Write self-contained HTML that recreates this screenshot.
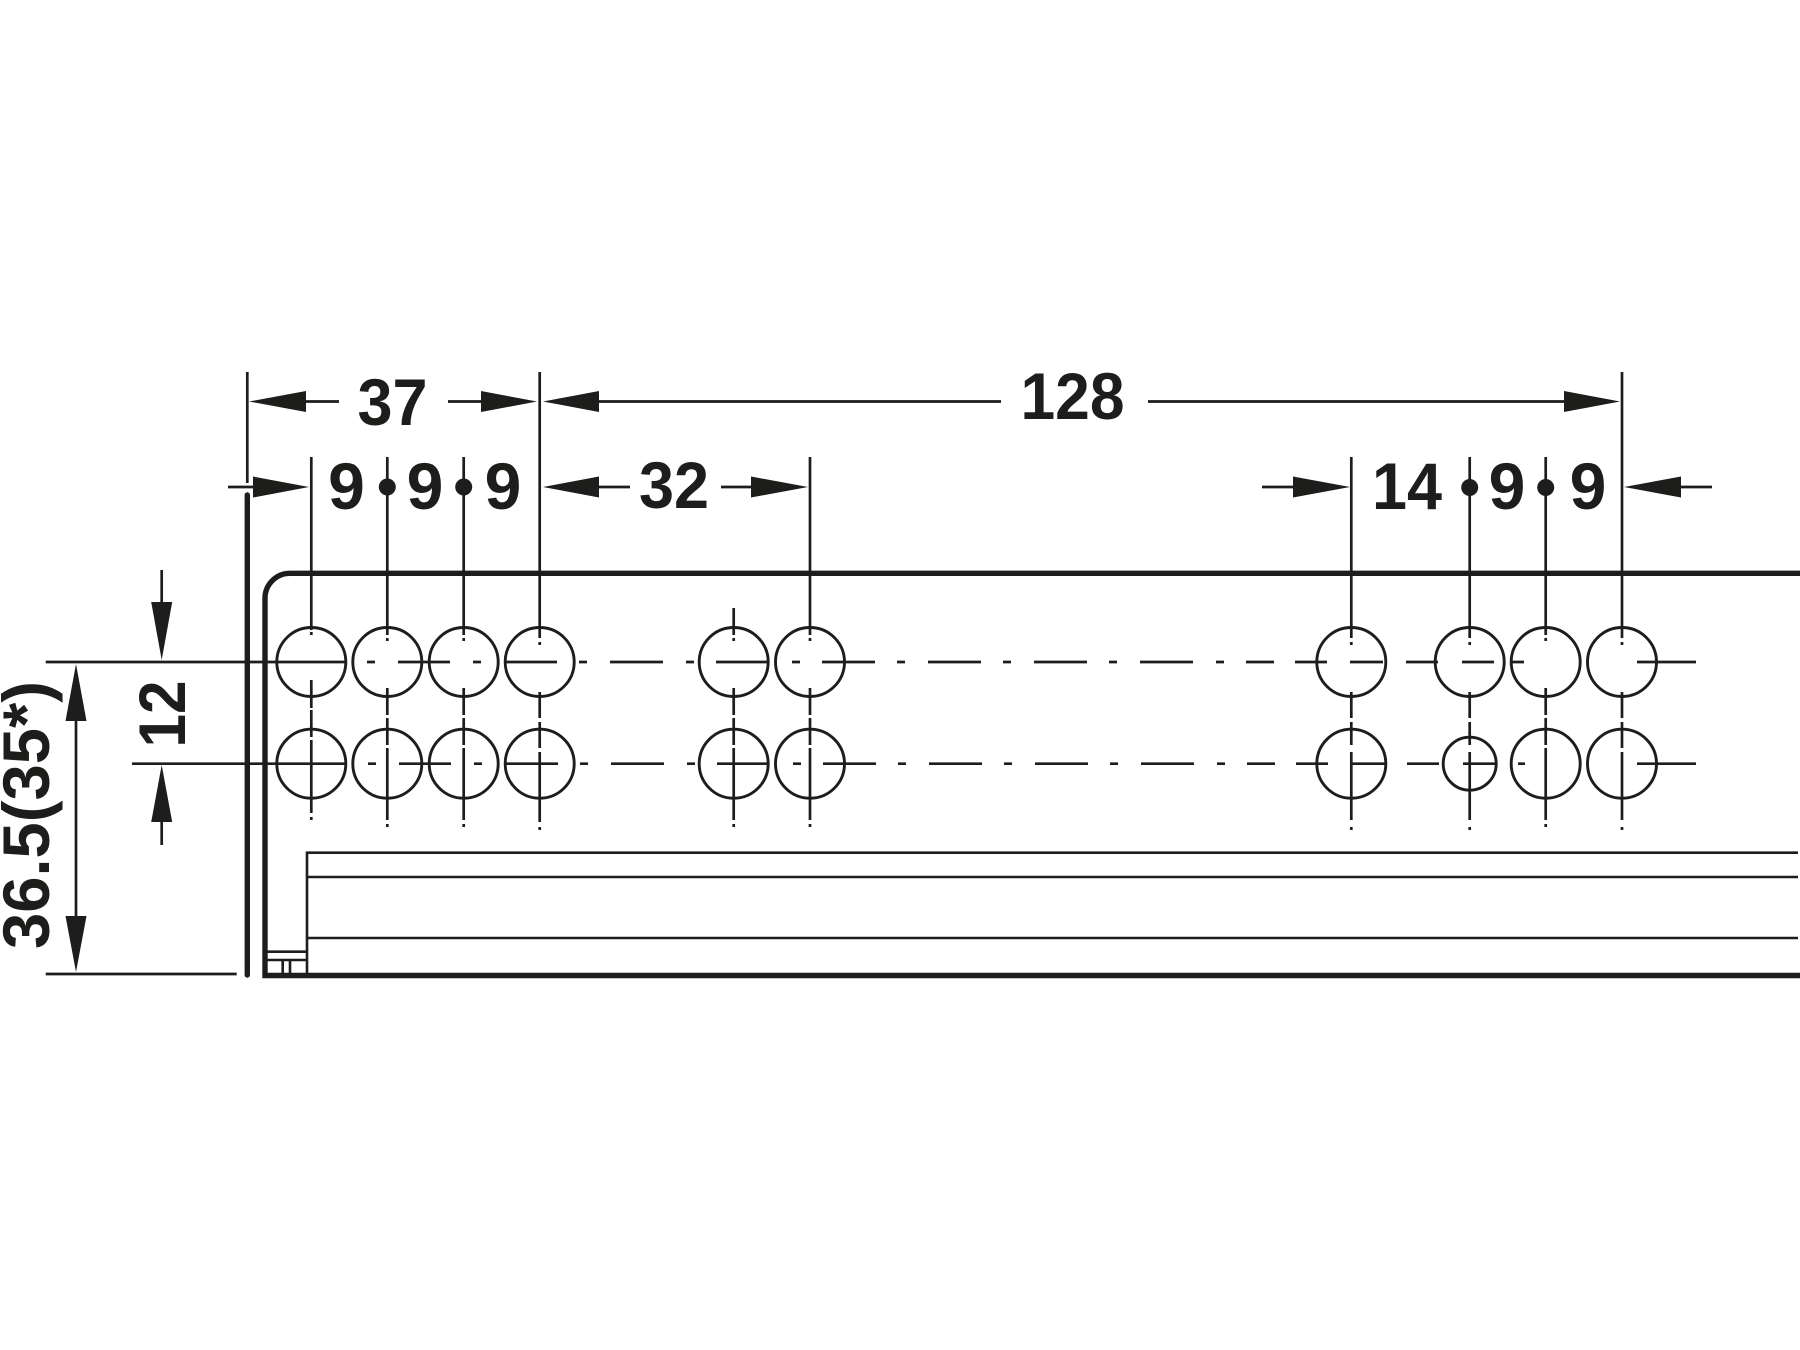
<!DOCTYPE html>
<html><head><meta charset="utf-8"><title>Drilling diagram</title>
<style>html,body{margin:0;padding:0;background:#fff;width:1800px;height:1350px;overflow:hidden}svg{display:block}
text{font-family:"Liberation Sans",Arial,sans-serif;font-weight:bold;font-size:66px;fill:#1d1d1b;text-anchor:middle}</style></head>
<body>
<svg width="1800" height="1350" viewBox="0 0 1800 1350" xmlns="http://www.w3.org/2000/svg">
<rect width="1800" height="1350" fill="#fff"/>
<!-- panel -->
<path d="M1800 573.3H290A25 25 0 0 0 265 598.3V975.5H1800" fill="none" stroke="#1d1d1b" stroke-width="5.4"/>
<path d="M247.3 495V975" fill="none" stroke="#1d1d1b" stroke-width="5.4" stroke-linecap="round"/>
<path d="M1798 852.7H307V975M307 877H1798M307 938H1798M265 951.7H307M265 960H307M282.7 960V975M290 960V975" fill="none" stroke="#1d1d1b" stroke-width="2.6"/>
<!-- holes -->
<g fill="none" stroke="#1d1d1b" stroke-width="2.9">
<circle cx="311.3" cy="662" r="34.5"/><circle cx="387.3" cy="662" r="34.5"/><circle cx="463.7" cy="662" r="34.5"/><circle cx="539.7" cy="662" r="34.5"/><circle cx="733.7" cy="662" r="34.5"/><circle cx="810" cy="662" r="34.5"/><circle cx="1351.3" cy="662" r="34.5"/><circle cx="1469.7" cy="662" r="34.5"/><circle cx="1545.7" cy="662" r="34.5"/><circle cx="1622" cy="662" r="34.5"/>
<circle cx="311.3" cy="763.7" r="34.5"/><circle cx="387.3" cy="763.7" r="34.5"/><circle cx="463.7" cy="763.7" r="34.5"/><circle cx="539.7" cy="763.7" r="34.5"/><circle cx="733.7" cy="763.7" r="34.5"/><circle cx="810" cy="763.7" r="34.5"/><circle cx="1351.3" cy="763.7" r="34.5"/><circle cx="1469.7" cy="763.7" r="26.5"/><circle cx="1545.7" cy="763.7" r="34.5"/><circle cx="1622" cy="763.7" r="34.5"/>
</g>
<!-- horizontal centre lines -->
<g fill="none" stroke="#1d1d1b" stroke-width="2.7">
<path d="M45.7 662H346M367 662H375M398 662H450M473 662H481M505 662H557M579 662H587M610 662H663M686 662H694M716 662H768M792 662H800M822 662H875M897 662H905M928 662H981M1003 662H1011M1034 662H1087M1109 662H1117M1140 662H1193M1216 662H1224M1246 662H1274M1295 662H1327M1350 662H1383M1406 662H1438M1462 662H1494M1512 662H1524M1637 662H1696"/>
<path d="M132 763.7H346M368 763.7H376M399 763.7H451M474 763.7H482M506 763.7H558M580 763.7H588M611 763.7H664M687 763.7H695M717 763.7H769M793 763.7H801M823 763.7H876M898 763.7H906M929 763.7H982M1004 763.7H1012M1035 763.7H1088M1110 763.7H1118M1141 763.7H1194M1217 763.7H1225M1247 763.7H1275M1296 763.7H1328M1350 763.7H1386M1407 763.7H1439M1463 763.7H1496M1518 763.7H1525M1637 763.7H1696"/>
<path d="M45.7 974H236.7"/>
<!-- vertical lines -->
<path d="M311.3 457V630M311.3 632V635M311.3 680V708M311.3 710V737M311.3 740V813M311.3 817V820"/>
<path d="M387.3 457V635M387.3 638V641M387.3 688V715M387.3 718V745M387.3 748V820M387.3 824V827"/>
<path d="M463.7 457V635M463.7 638V641M463.7 688V715M463.7 718V745M463.7 748V820M463.7 824V827"/>
<path d="M539.7 372V638M539.7 642V645M539.7 692V718M539.7 722V748M539.7 752V822M539.7 827V830"/>
<path d="M733.7 608V635M733.7 638V641M733.7 688V715M733.7 718V745M733.7 748V820M733.7 824V827"/>
<path d="M810 457V635M810 638V641M810 688V715M810 718V745M810 748V820M810 824V827"/>
<path d="M1351.3 457V638M1351.3 642V645M1351.3 692V718M1351.3 722V745M1351.3 752V820M1351.3 827V830"/>
<path d="M1469.7 457V638M1469.7 642V645M1469.7 692V718M1469.7 722V745M1469.7 752V820M1469.7 827V830"/>
<path d="M1545.7 457V635M1545.7 638V641M1545.7 688V715M1545.7 718V745M1545.7 748V820M1545.7 824V827"/>
<path d="M1622 372V638M1622 642V645M1622 692V718M1622 722V748M1622 752V820M1622 827V830"/>
<path d="M247.3 372V483"/>
<!-- dimension shafts -->
<path d="M300 401.5H339M448 401.5H485M595 401.5H1001M1148 401.5H1570"/>
<path d="M228 487H258M595 487H630M721 487H756M1262 487H1297M1677 487H1712"/>
<path d="M76 700V940M161.7 570V605M161.7 815V845"/>
</g>
<!-- arrowheads -->
<g fill="#1d1d1b">
<polygon points="249,401.5 306,391 306,412"/><polygon points="537,401.5 481,391 481,412"/>
<polygon points="543,401.5 599,391 599,412"/><polygon points="1620,401.5 1564,391 1564,412"/>
<polygon points="309,487 253,476.5 253,497.5"/><polygon points="543,487 599,476.5 599,497.5"/>
<polygon points="808,487 751,476.5 751,497.5"/><polygon points="1350,487 1293,476.5 1293,497.5"/>
<polygon points="1624,487 1681,476.5 1681,497.5"/>
<polygon points="76,664 86.5,721 65.5,721"/><polygon points="76,972 86.5,916 65.5,916"/>
<polygon points="161.7,660 172.2,602 151.2,602"/><polygon points="161.7,765 172.2,822 151.2,822"/>
<circle cx="387.3" cy="487" r="8.5"/><circle cx="463.7" cy="487" r="8.5"/><circle cx="1469.7" cy="487.5" r="8.5"/><circle cx="1545.7" cy="487.5" r="8.5"/>
</g>
<!-- labels -->
<text x="392.5" y="425" textLength="70" lengthAdjust="spacingAndGlyphs">37</text>
<text x="1072.5" y="419" textLength="104" lengthAdjust="spacingAndGlyphs">128</text>
<text x="346.5" y="509">9</text>
<text x="425" y="509">9</text>
<text x="503" y="509">9</text>
<text x="674" y="508" textLength="70" lengthAdjust="spacingAndGlyphs">32</text>
<text x="1407" y="509" textLength="70" lengthAdjust="spacingAndGlyphs">14</text>
<text x="1507" y="509">9</text>
<text x="1588" y="509">9</text>
<text transform="translate(185,714) rotate(-90)" textLength="67" lengthAdjust="spacingAndGlyphs">12</text>
<text transform="translate(49,815) rotate(-90)" textLength="268" lengthAdjust="spacingAndGlyphs">36.5(35*)</text>
</svg>
</body></html>
